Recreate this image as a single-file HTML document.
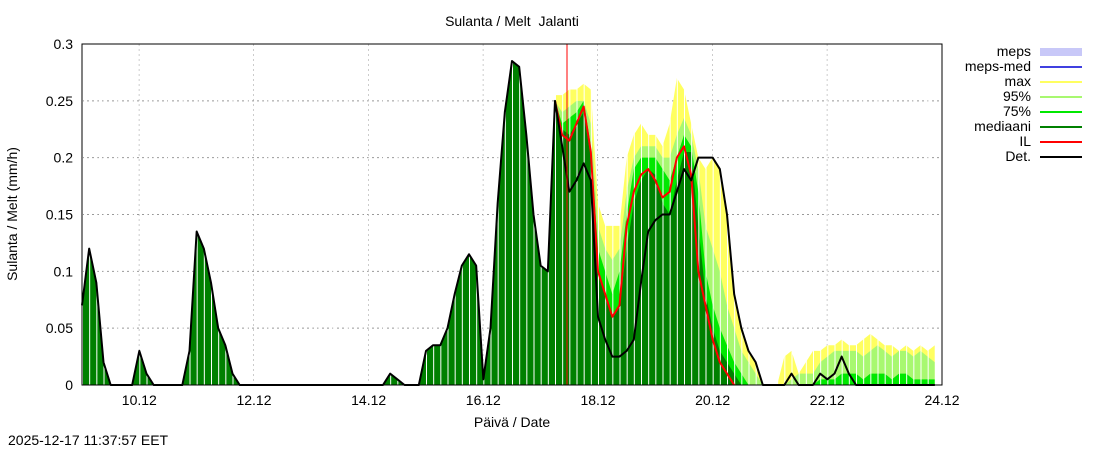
<!DOCTYPE html>
<html><head><meta charset="utf-8"><style>
body{margin:0;background:#fff;font-family:"Liberation Sans",sans-serif}
svg text{font-family:"Liberation Sans",sans-serif;font-size:14px;fill:#000}
</style></head><body>
<svg id="c" width="1100" height="450"></svg>
<script>
const yTicks=[0,0.05,0.1,0.15,0.2,0.25,0.3];
const yTickLabels=["0","0.05","0.1","0.15","0.2","0.25","0.3"];
const xTickLabels=["10.12","12.12","14.12","16.12","18.12","20.12","22.12","24.12"];
const xTickDays=[1,3,5,7,9,11,13,15];
const det=[0.07,0.12,0.09,0.02,0,0,0,0, 0.03,0.01,0,0,0,0,0,0.03, 0.135,0.12,0.09,0.05,0.035,0.01,0,0,
0,0,0,0,0,0,0,0, 0,0,0,0,0,0,0,0, 0,0,0,0.01,0.005,0,0,0,
0.03,0.035,0.035,0.05,0.08,0.105,0.115,0.105, 0.005,0.05,0.16,0.24,0.285,0.28,0.22,0.15,
0.105,0.1,0.25,0.21,0.17,0.18,0.195,0.18, 0.06,0.04,0.025,0.025,0.03,0.04,0.09,0.135,
0.145,0.15,0.15,0.17,0.19,0.18,0.2,0.2, 0.2,0.19,0.15,0.08,0.05,0.03,0.02,0,
0,0,0,0.01,0,0,0,0.01, 0.005,0.01,0.025,0.01,0,0,0,0, 0,0,0,0,0,0,0,0];
const fcStart=66;
const med=[0.25,0.225,0.22,0.23,0.24,0.2,0.1,0.08,0.06,0.07,0.12,0.16,0.18,0.19,0.185,0.16,0.15,0.18,0.205,0.205,0.14,0.08,0.05,0.03,0.02,0.01,0,0,0,0,
0,0,0,0,0,0,0,0,0,0,0,0,0,0,0,0,0,0,0,0,0,0,0,0];
const p75=[0.25,0.23,0.235,0.24,0.25,0.21,0.12,0.1,0.08,0.1,0.15,0.19,0.2,0.2,0.2,0.19,0.18,0.2,0.22,0.21,0.17,0.1,0.07,0.05,0.035,0.02,0.01,0,0,0,
0,0,0,0,0,0,0,0.005,0.005,0.005,0.01,0.01,0.01,0.005,0.01,0.01,0.01,0.005,0.01,0.01,0.005,0.005,0.005,0.005];
const p95=[0.25,0.24,0.245,0.25,0.25,0.23,0.14,0.12,0.11,0.12,0.17,0.2,0.21,0.21,0.21,0.2,0.2,0.22,0.235,0.22,0.19,0.14,0.12,0.1,0.07,0.05,0.03,0.02,0.01,0,
0,0,0,0.005,0.01,0.01,0.01,0.02,0.025,0.03,0.03,0.03,0.03,0.025,0.03,0.035,0.03,0.025,0.03,0.03,0.025,0.03,0.025,0.02];
const pmax=[0.255,0.255,0.26,0.26,0.265,0.26,0.16,0.14,0.14,0.14,0.2,0.22,0.23,0.22,0.22,0.21,0.23,0.27,0.26,0.23,0.2,0.19,0.2,0.19,0.15,0.08,0.05,0.03,0.02,0,
0,0,0.025,0.03,0.01,0.02,0.03,0.03,0.035,0.035,0.04,0.035,0.035,0.04,0.045,0.04,0.035,0.035,0.03,0.035,0.03,0.035,0.03,0.035];
const il=[0.25,0.22,0.215,0.23,0.245,0.205,0.1,0.08,0.06,0.07,0.14,0.17,0.185,0.19,0.18,0.165,0.17,0.2,0.21,0.185,0.1,0.07,0.04,0.02,0.01,0];
const stepHours=3;

const L=82,R=942,T=44,B=385,DAYS=15;
const X=h=>L+h/(DAYS*24)*(R-L);
const Y=v=>B-v/0.3*(B-T);
const NS="http://www.w3.org/2000/svg";
const svg=document.getElementById('c');
function mk(tag,attrs,parent){const e=document.createElementNS(NS,tag);for(const k in attrs)e.setAttribute(k,attrs[k]);(parent||svg).appendChild(e);return e;}

const grid=mk('g',{});


yTicks.forEach((v,i)=>{
  if(i>0&&i<yTicks.length-1) mk('line',{x1:L,x2:R,y1:Y(v),y2:Y(v),stroke:'#999','stroke-dasharray':'2,3'},grid);
  const t=mk('text',{x:73,y:Y(v)+5,'text-anchor':'end'});
  t.textContent=yTickLabels[i];
  
  
});
xTickDays.forEach((d,i)=>{
  const x=X(d*24);
  if(i<xTickDays.length-1) mk('line',{x1:x,x2:x,y1:T,y2:B,stroke:'#999','stroke-dasharray':'2,3'},grid);
  const t=mk('text',{x:x,y:405,'text-anchor':'middle'});
  t.textContent=xTickLabels[i];
  
  
});

function area(arr,off,color,name){
  let pts=X(off*stepHours)+','+B+' ';
  pts+=arr.map((v,j)=>X((j+off)*stepHours)+','+Y(v)).join(' ');
  pts+=' '+X((arr.length-1+off)*stepHours)+','+B;
  const p=mk('polygon',{points:pts,fill:color});
  
  
}
area(det.slice(0,fcStart+1),0,'#008000','det-area');
area(pmax,fcStart,'#ffff60','max-area');
area(p95,fcStart,'#a8f870','p95-area');
area(p75,fcStart,'#00e800','p75-area');
area(med,fcStart,'#008000','median-area');

const sep=mk('g',{stroke:'#fff','stroke-width':1});


for(let h=0;h<DAYS*24;h+=stepHours){
  const x=X(h)+0.5;
  mk('line',{x1:x,x2:x,y1:T,y2:B},sep);
}

function line(arr,off,color,name,w){
  const pts=arr.map((v,j)=>X((j+off)*stepHours)+','+Y(v)).join(' ');
  const p=mk('polyline',{points:pts,fill:'none',stroke:color,'stroke-width':w,'stroke-linejoin':'round'});
  
  
}
line(il,fcStart,'#ff0000','il-line',2);
line(det,0,'#000','det-line',2);

const fl=mk('line',{x1:567,x2:567,y1:T,y2:B,stroke:'#ff0000','stroke-width':1});



const fr=mk('rect',{x:L,y:T,width:R-L,height:B-T,fill:'none',stroke:'#000'});



function txt(s,a,name){const t=mk('text',a);t.textContent=s;return t;}
txt('Sulanta / Melt\u00a0\u00a0Jalanti',{x:512,y:26,'text-anchor':'middle'},'chart-title');
txt('Päivä / Date',{x:512,y:427,'text-anchor':'middle'},'x-axis-title');
txt('Sulanta / Melt (mm/h)',{x:0,y:0,'text-anchor':'middle',transform:'translate(17,214) rotate(-90)'},'y-axis-title');
txt('2025-12-17 11:37:57 EET',{x:8,y:445},'timestamp');

const leg=[['meps','#c8c8f8',8],['meps-med','#4040e0',2],['max','#ffff60',2],['95%','#a8f870',2],['75%','#00e800',2],['mediaani','#008000',2],['IL','#ff0000',2],['Det.','#000',2]];
leg.forEach((e,i)=>{
  const y=52+i*15;
  const g=mk('g',{});
  
  
  const t=mk('text',{x:1031,y:y+4,'text-anchor':'end','font-size':'15'},g);t.textContent=e[0];
  mk('line',{x1:1040,x2:1082,y1:y,y2:y,stroke:e[1],'stroke-width':e[2]},g);
});
</script>
</body></html>
